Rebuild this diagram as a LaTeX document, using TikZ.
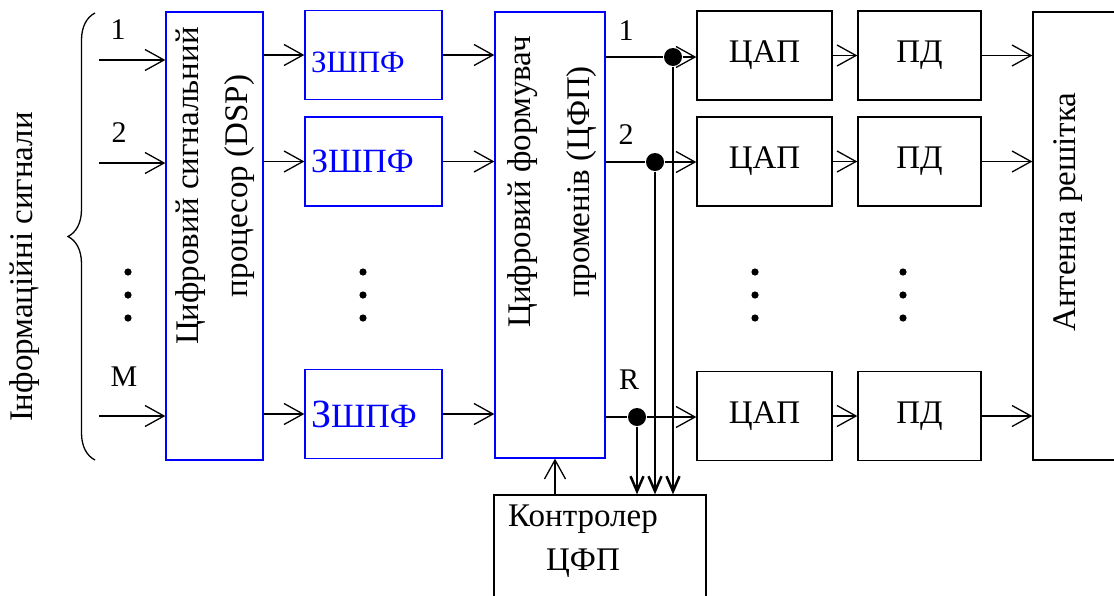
\documentclass[tikz,border=0pt]{standalone}
\usepackage{fontspec}
\setmainfont{Liberation Serif}
\usetikzlibrary{arrows.meta,decorations.pathreplacing}

\begin{document}
\begin{tikzpicture}[
        x=0.5pt, y=-0.5pt,
        line width=0.65pt,
        >={Straight Barb[length=9.5pt,width=10.5pt]},
        blk/.style={draw, rectangle, inner sep=0pt, font=\fontsize{16.5}{20}\selectfont},
        bluebox/.style={blk, draw=blue},
        zbox/.style={bluebox, minimum width=68.5pt, minimum height=44.5pt, text=blue, align=left, text width=62.5pt, inner xsep=3pt},
        dacbox/.style={blk, minimum width=67.5pt, minimum height=44.5pt},
        pdbox/.style={blk, minimum width=61.5pt, minimum height=44.5pt},
        vtext/.style={rotate=90, align=center, inner sep=0pt},
        lbl/.style={inner sep=0pt, font=\fontsize{15}{18}\selectfont},
        junct/.style={circle, fill, inner sep=0pt, minimum size=9pt},
        bus/.style={line width=1.25pt, -{Straight Barb[length=7.5pt,width=6.5pt]}},
    ]
    \useasboundingbox (0,0) rectangle (1114,595);

    \node[bluebox, minimum width=48.5pt, minimum height=224pt] (dsp) at (214.5,236) {};
    \node[vtext, font=\fontsize{16.5}{24.5}\selectfont] (dsptxt) at (215.5,186) {Цифровий сигнальний\\процесор (DSP)};

    \node[zbox, font=\fontsize{15.5}{18}\selectfont, text height=18pt] (z1) at (373.5,55) {ЗШПФ};
    \node[zbox, font=\fontsize{17}{18}\selectfont] (z2) at (373.5,161.5) {ЗШПФ};
    \node[zbox, font=\fontsize{17}{18}\selectfont] (z3) at (373.5,414) {{\fontsize{20}{20}\selectfont З}ШПФ};

    \node[bluebox, minimum width=55pt, minimum height=223pt] (cfp) at (550,235) {};
    \node[vtext, font=\fontsize{16.5}{29.5}\selectfont] (cfptxt) at (552,182) {Цифровий формувач\\променів (ЦФП)};

    \node[dacbox] (dac1) at (764.5,55.5) {ЦАП};
    \node[dacbox] (dac2) at (764.5,161.5) {ЦАП};
    \node[dacbox] (dac3) at (764.5,416) {ЦАП};

    \node[pdbox] (pd1) at (919.5,55.5) {ПД};
    \node[pdbox] (pd2) at (919.5,161.5) {ПД};
    \node[pdbox] (pd3) at (919.5,416) {ПД};

    \node[blk, minimum width=48.5pt, minimum height=224pt] (ant) at (1081.5,236) {};
    \node[vtext, font=\fontsize{16.5}{20}\selectfont] (anttxt) at (1068,212) {Антенна решітка};

    \node[blk, minimum width=106pt, minimum height=55pt] (ctl) at (600,550) {};
    \node[align=center, inner sep=0pt, font=\fontsize{16.5}{22}\selectfont] (ctltxt) at (583,541) {Контролер\\ЦФП};

    \node[vtext, font=\fontsize{16.5}{20}\selectfont] (info) at (25,267) {Інформаційні сигнали};
    \draw[decorate, decoration={brace, amplitude=13.5pt}] (95,460) -- (95,13);

    \node[lbl] (m1) at (118,30) {1};
    \node[lbl] (m2) at (119,133) {2};
    \node[lbl] (mM) at (124,377) {M};
    \node[lbl] (r1) at (626,31) {1};
    \node[lbl] (r2) at (626,135) {2};
    \node[lbl] (rR) at (629,380) {R};

    \foreach \x in {128,363,755,903}
        \foreach \y in {272,295,318}
            \fill (\x,\y) circle (1.8pt);

    \coordinate (in1) at (99,60);
    \coordinate (in2) at (99,163);
    \coordinate (in3) at (99,416);
    \draw[->] (in1) -- (in1 -| dsp.west);
    \draw[->] (in2) -- (in2 -| dsp.west);
    \draw[->] (in3) -- (in3 -| dsp.west);

    \draw[->] (dsp.east |- z1) -- (z1.west);
    \draw[->] (dsp.east |- z2) -- (z2.west);
    \draw[->] (dsp.east |- z3) -- (z3.west);

    \draw[->] (z1.east) -- (z1.east -| cfp.west);
    \draw[->] (z2.east) -- (z2.east -| cfp.west);
    \draw[->] (z3.east) -- (z3.east -| cfp.west);

    \node[junct] (j1) at (673,57) {};
    \node[junct] (j2) at (655,162) {};
    \node[junct] (j3) at (637,417) {};
    \draw (cfp.east |- j1) -- (j1);
    \draw (cfp.east |- j2) -- (j2);
    \draw (cfp.east |- j3) -- (j3);
    \draw[->] (j1) -- (j1 -| dac1.west);
    \draw[->] (j2) -- (j2 -| dac2.west);
    \draw[->] (j3) -- (j3 -| dac3.west);
    \draw[bus] (j1) -- (j1 |- ctl.north);
    \draw[bus] (j2) -- (j2 |- ctl.north);
    \draw[bus] (j3) -- (j3 |- ctl.north);

    \coordinate (cu) at (555,0);
    \draw[->] (ctl.north -| cu) -- (cfp.south -| cu);

    \draw[->] (dac1) -- (pd1);
    \draw[->] (dac2) -- (pd2);
    \draw[->] (dac3) -- (pd3);

    \draw[->] (pd1.east) -- (pd1.east -| ant.west);
    \draw[->] (pd2.east) -- (pd2.east -| ant.west);
    \draw[->] (pd3.east) -- (pd3.east -| ant.west);
\end{tikzpicture}
\end{document}
